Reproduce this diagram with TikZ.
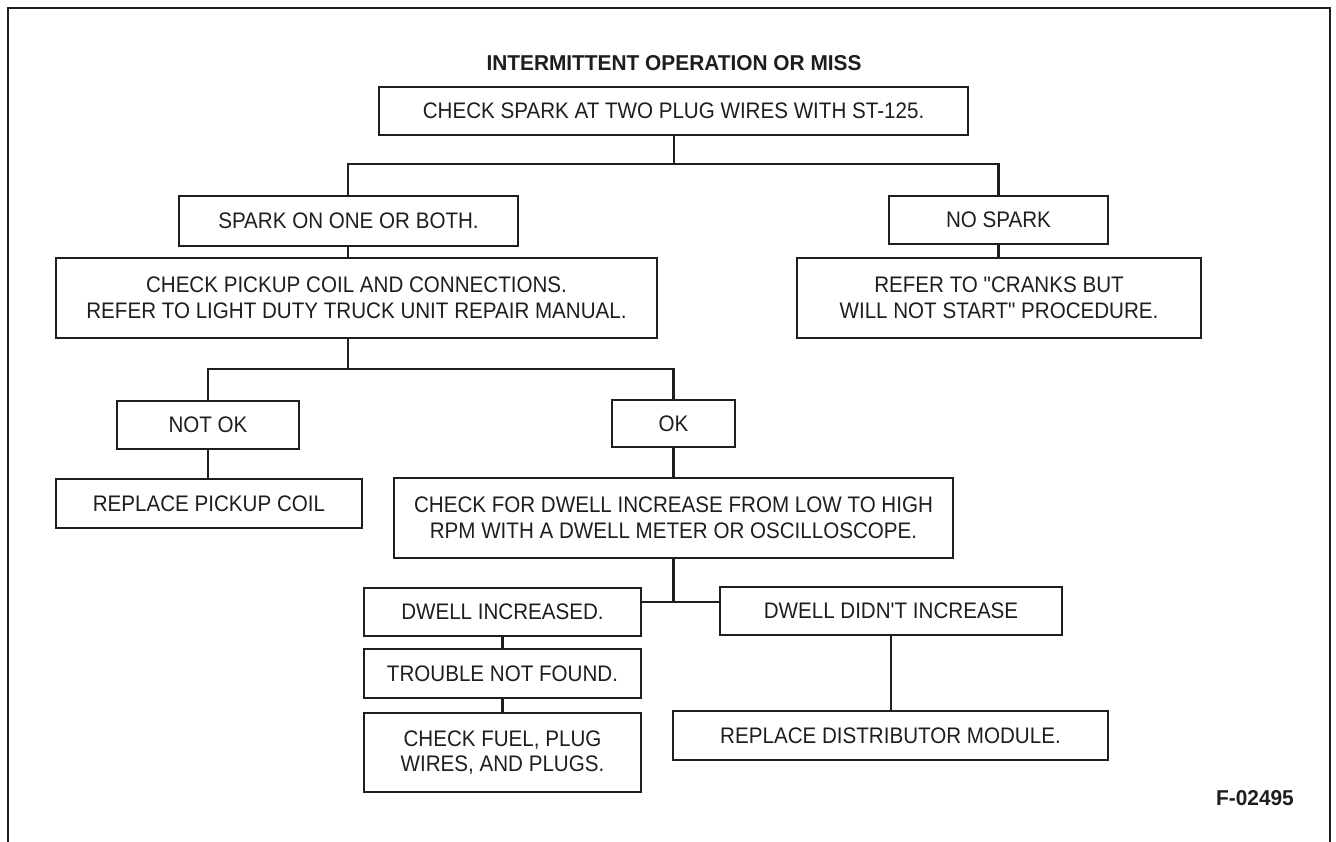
\documentclass[tikz,border=0pt]{standalone}
\usepackage{fontspec}
\newfontfamily\bodyfont[FakeStretch=0.915]{Liberation Sans}
\newfontfamily\titlefont[FakeStretch=0.97]{Liberation Sans}
\definecolor{ink}{HTML}{1E1E1E}
\begin{document}
\begin{tikzpicture}[x=1pt,y=-1pt,
  stepbox/.style={draw=ink, line width=2.6pt, inner sep=0pt, align=center,
     font=\bodyfont\fontsize{22.5}{25.5}\selectfont, text=ink},
  conn/.style={draw=ink, line width=2.3pt},
  frame/.style={draw=ink, line width=2.3pt}]
\useasboundingbox (0,0) rectangle (1336,842);
\fill[white] (0,0) rectangle (1336,842);
\draw[frame] (8,842) -- (8,8) -- (1330,8) -- (1330,842);

\node[font=\titlefont\bfseries\fontsize{21.5}{24}\selectfont, text=ink] (title) at (674,63) {INTERMITTENT OPERATION OR MISS};

\node[stepbox, minimum width=589pt, minimum height=48pt] (b1) at (673.5,111) {CHECK SPARK AT TWO PLUG WIRES WITH ST-125.};
\node[stepbox, minimum width=339pt, minimum height=50pt] (spark) at (348.5,221) {SPARK ON ONE OR BOTH.};
\node[stepbox, minimum width=219pt, minimum height=48pt] (nospark) at (998.5,220) {NO SPARK};
\node[stepbox, minimum width=601pt, minimum height=80pt] (pickup) at (356.5,298) {CHECK PICKUP COIL AND CONNECTIONS.\\REFER TO LIGHT DUTY TRUCK UNIT REPAIR MANUAL.};
\node[stepbox, minimum width=404pt, minimum height=80pt] (refer) at (999,298) {REFER TO "CRANKS BUT\\WILL NOT START" PROCEDURE.};
\node[stepbox, minimum width=182pt, minimum height=48pt] (notok) at (208,425) {NOT OK};
\node[stepbox, minimum width=123pt, minimum height=47pt] (ok) at (673.5,423.5) {OK};
\node[stepbox, minimum width=306pt, minimum height=49pt] (coil) at (209,503.5) {REPLACE PICKUP COIL};
\node[stepbox, minimum width=559pt, minimum height=80pt] (dwell) at (673.5,518) {CHECK FOR DWELL INCREASE FROM LOW TO HIGH\\RPM WITH A DWELL METER OR OSCILLOSCOPE.};
\node[stepbox, minimum width=277pt, minimum height=48pt] (incr) at (502.5,612) {DWELL INCREASED.};
\node[stepbox, minimum width=342pt, minimum height=48pt] (didnt) at (891,611) {DWELL DIDN'T INCREASE};
\node[stepbox, minimum width=277pt, minimum height=49pt] (trouble) at (502.5,673.5) {TROUBLE NOT FOUND.};
\node[stepbox, minimum width=277pt, minimum height=79pt] (fuel) at (502.5,752.5) {CHECK FUEL, PLUG\\WIRES, AND PLUGS.};
\node[stepbox, minimum width=435pt, minimum height=49pt] (distrib) at (890.5,735.5) {REPLACE DISTRIBUTOR MODULE.};

\node[font=\titlefont\bfseries\fontsize{21.5}{24}\selectfont, text=ink] (fig) at (1255,798) {F-02495};

\coordinate (j1) at (674,164);
\coordinate (j2) at (348,369);
\coordinate (j3) at (673.5,602);

\draw[conn] (b1.south -| j1) -- (j1);
\draw[conn] (spark.north -| j2) -- (j2 |- j1) -- (nospark.north |- j1) -- (nospark.north);
\draw[conn] (spark.south -| j2) -- (j2 |- pickup.north);
\draw[conn] (nospark.south) -- (nospark.south |- refer.north);
\draw[conn] (pickup.south -| j2) -- (j2);
\draw[conn] (notok.north) -- (notok.north |- j2) -- (ok.north |- j2) -- (ok.north);
\draw[conn] (notok.south) -- (notok.south |- coil.north);
\draw[conn] (ok.south) -- (ok.south |- dwell.north);
\draw[conn] (dwell.south) -- (j3);
\draw[conn] (incr.east |- j3) -- (didnt.west |- j3);
\draw[conn] (incr.south) -- (trouble.north);
\draw[conn] (trouble.south) -- (fuel.north);
\draw[conn] (didnt.south) -- (didnt.south |- distrib.north);
\end{tikzpicture}
\end{document}
